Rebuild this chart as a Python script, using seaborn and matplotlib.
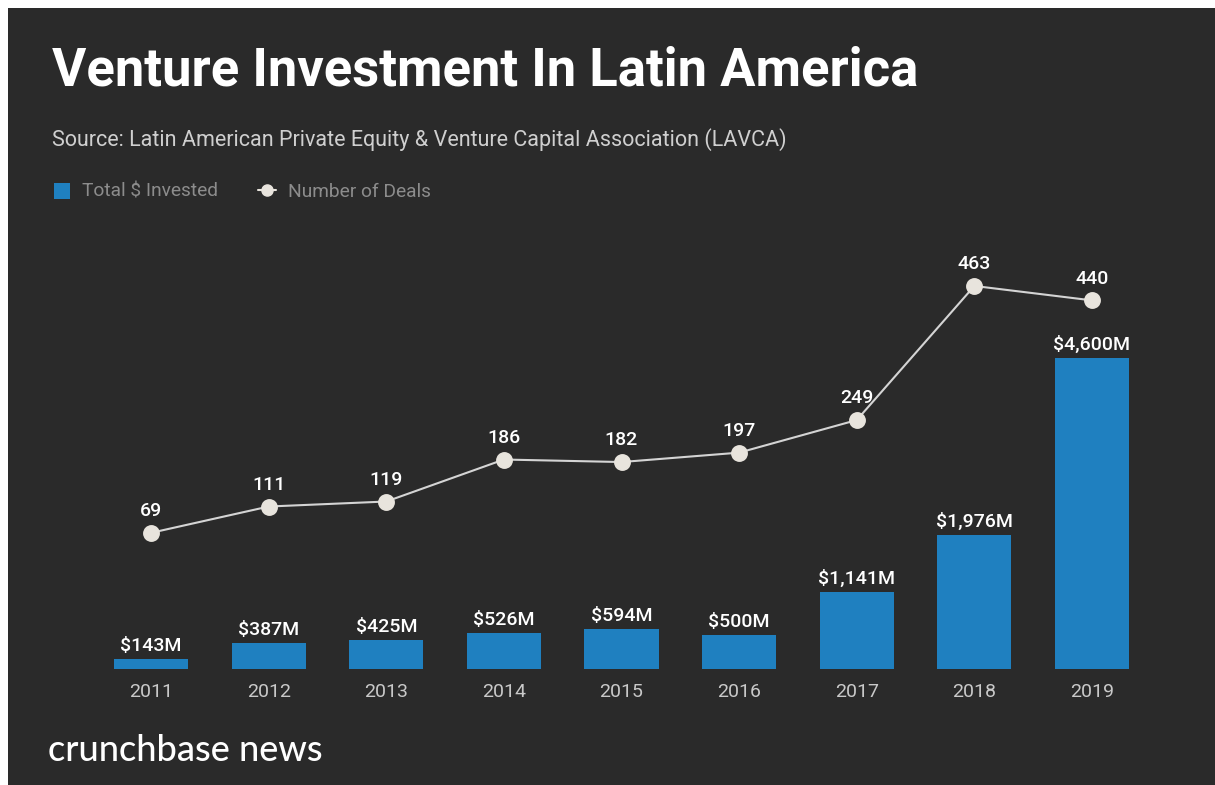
import matplotlib
matplotlib.use("Agg")
import matplotlib.pyplot as plt
from matplotlib.lines import Line2D
from matplotlib.patches import Rectangle
import seaborn as sns
import pandas as pd

# --- data -------------------------------------------------------------
years = ["2011", "2012", "2013", "2014", "2015", "2016", "2017", "2018", "2019"]
invested_musd = [143, 387, 425, 526, 594, 500, 1141, 1976, 4600]
deal_counts = [69, 111, 119, 186, 182, 197, 249, 463, 440]

title = "Venture Investment In Latin America"
subtitle = "Source: Latin American Private Equity & Venture Capital Association (LAVCA)"
legend_labels = ["Total $ Invested", "Number of Deals"]
brand = "crunchbase news"

df = pd.DataFrame({"year": years, "invested": invested_musd, "deals": deal_counts})

# --- style ------------------------------------------------------------
BG = "#2a2a2a"
BAR = "#1f80c0"
DOT = "#e8e4dd"
LINE = "#d4d4d4"

sns.set_theme(style="dark")
plt.rcParams["font.family"] = ["Roboto", "DejaVu Sans"]

W, H = 1215, 785
fig = plt.figure(figsize=(W / 100, H / 100), dpi=100, facecolor="white")

# dark panel with thin white margin on the top/left
fig.patches.append(Rectangle((8 / W, 0), 1, 1 - 8 / H, transform=fig.transFigure,
                             facecolor=BG, edgecolor="none", zorder=-10))


def px(x, y):
    return x / W, 1 - y / H


# plotting area: x spans bar slots, y from baseline up
left, right, top, bottom = 92.2, 1150.8, 250, 669
ax = fig.add_axes([left / W, 1 - bottom / H, (right - left) / W, (bottom - top) / H])
ax.set_facecolor("none")

sns.barplot(data=df, x="year", y="invested", color=BAR, width=0.63,
            saturation=1, edgecolor="none", linewidth=0, ax=ax, zorder=2)
ax.set_xlim(-0.5, 8.5)
ax.set_ylim(0, (bottom - top) * 14.79)

for i, v in enumerate(invested_musd):
    ax.annotate(f"${v:,}M", (i, v), xytext=(0, 6), textcoords="offset points",
                ha="center", va="baseline", color="white", fontsize=14,
                fontweight="medium")

ax.set_xlabel("")
ax.set_ylabel("")
ax.set_yticks([])
ax.tick_params(axis="x", length=0, pad=10, labelsize=14, labelcolor="#c9c9c9")
for s in ax.spines.values():
    s.set_visible(False)

# deals line on a twin axis
ax2 = ax.twinx()
ax2.set_facecolor("none")
sns.pointplot(data=df, x="year", y="deals", color=LINE, ax=ax2,
              markers="o", linestyles="-", linewidth=1.5,
              markersize=11, markerfacecolor=DOT, markeredgecolor=DOT)
ax2.set_xlim(-0.5, 8.5)
ax2.set_ylim(-148.3, 520.4)
ax2.set_yticks([])
ax2.set_ylabel("")
ax2.set_xlabel("")
for s in ax2.spines.values():
    s.set_visible(False)

for i, v in enumerate(deal_counts):
    ax2.annotate(str(v), (i, v), xytext=(0, 12), textcoords="offset points",
                 ha="center", va="baseline", color="white", fontsize=14,
                 fontweight="medium")

# --- header -----------------------------------------------------------
fig.text(*px(52, 86), title, color="white", fontsize=37.8, fontweight="bold",
         ha="left", va="baseline")
fig.text(*px(52, 146), subtitle, color="#cfcfcf", fontsize=15.5,
         ha="left", va="baseline")

# legend
fig.patches.append(Rectangle(px(54, 199), 16 / W, 16 / H, transform=fig.transFigure,
                             facecolor=BAR, edgecolor="none"))
fig.text(*px(82, 197), legend_labels[0], color="#8c8c8c", fontsize=13.8,
         ha="left", va="baseline")
fig.lines.append(Line2D([258 / W, 276 / W], [1 - 190 / H] * 2, transform=fig.transFigure,
                        color=DOT, lw=1.5))
fig.lines.append(Line2D([267 / W], [1 - 190 / H], transform=fig.transFigure,
                        marker="o", markersize=8, color=DOT, lw=0))
fig.text(*px(288, 197), legend_labels[1], color="#8c8c8c", fontsize=13.8,
         ha="left", va="baseline")

# footer brand
fig.text(*px(48, 761), brand, color="white", fontsize=26,
         family=["Lato", "DejaVu Sans"], fontweight="medium", ha="left", va="baseline")

fig.savefig("out.png", dpi=100, facecolor=fig.get_facecolor())
